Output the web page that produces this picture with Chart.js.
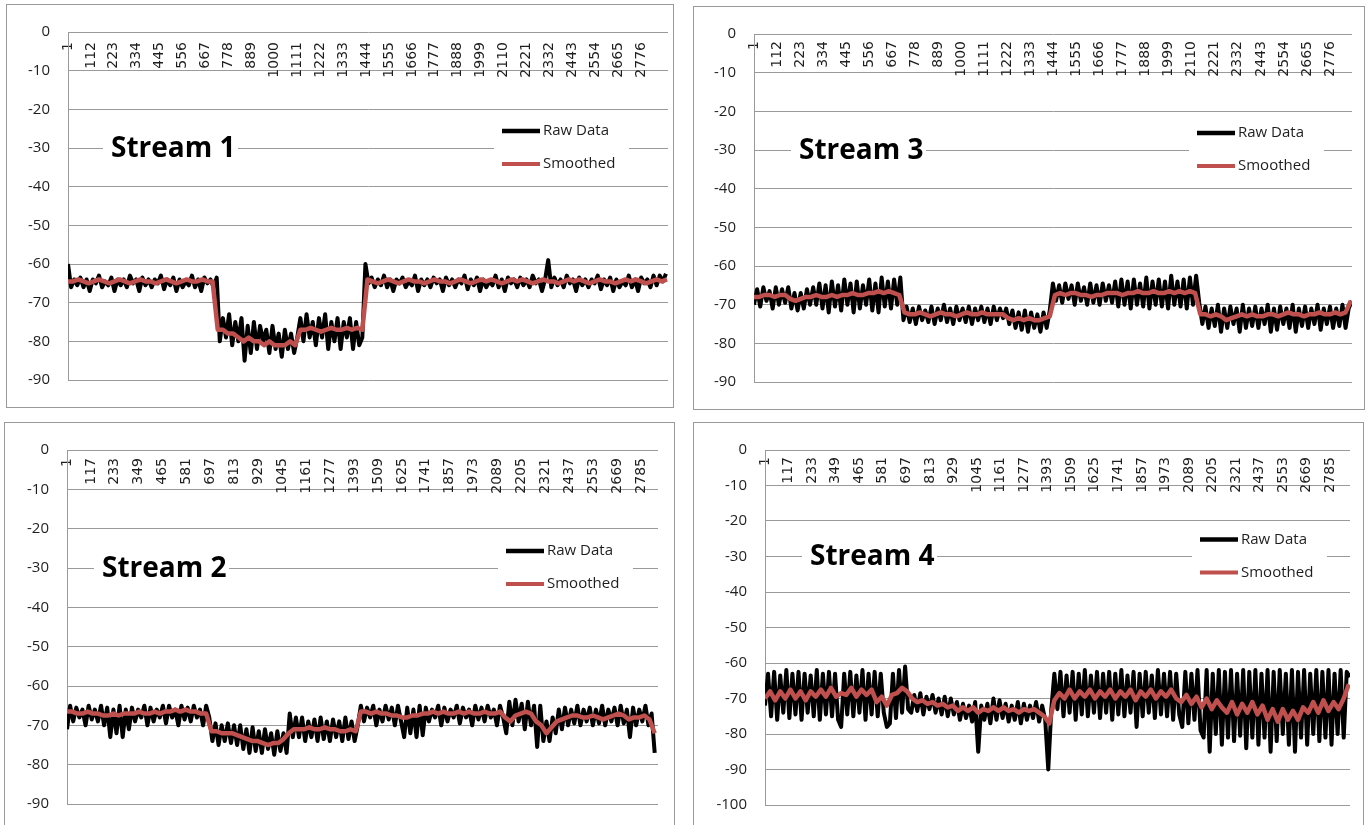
<!DOCTYPE html>
<html lang="en">
<head>
<meta charset="UTF-8">
<title>Streams</title>
<style>
  html, body { margin: 0; padding: 0; background: #fff; overflow: hidden; }
  body { width: 1372px; height: 825px; position: relative; }
  .panel { position: absolute; border: 1px solid #9a9a9a; background: #fff; }
  .panel canvas { display: block; }
</style>
</head>
<body>
<div class="panel" style="left:6px;top:4px;"><canvas id="s1" width="666" height="402"></canvas></div>
<div class="panel" style="left:693px;top:6px;"><canvas id="s3" width="670" height="402"></canvas></div>
<div class="panel" style="left:4px;top:422px;"><canvas id="s2" width="669" height="410"></canvas></div>
<div class="panel" style="left:693px;top:422px;"><canvas id="s4" width="669" height="410"></canvas></div>

<script src="https://cdn.jsdelivr.net/npm/chart.js"></script>
<script>
// raw values are read every 15 samples, smoothed every 25
const rawStep = 15
const smoothStep = 25

const xTicksA = [1,112,223,334,445,556,667,778,889,1000,1111,1222,1333,1444,1555,1666,1777,1888,1999,2110,2221,2332,2443,2554,2665,2776]
const xTicksB = [1,117,233,349,465,581,697,813,929,1045,1161,1277,1393,1509,1625,1741,1857,1973,2089,2205,2321,2437,2553,2669,2785]

const stream1Raw = [
  -60,-66,-64,-65.5,-63.5,-66,-64,-67,-64,-65,-63,-66,-64.5,-65.5,-63.5,-67,-64,-65.5,-64,-66,
  -63,-65,-64,-67,-63.5,-65.5,-64,-66,-64,-65,-63,-66.5,-64,-65.5,-63.5,-67,-64,-66,-64.5,-65.5,
  -63,-66,-64,-67,-63.5,-65,-64,-66,-63.5,
  -80,-74,-79,-73,-81,-75,-80,-74,-85,-76,-83,-75,-82,-76,-80,-77,-83,-76,-82,-78,-84,-77,-82,-78,-83,-79,
  -74,-80,-73,-79,-75,-81,-74,-79,-73,-82,-75,-80,-74,-82,-75,-79,-74,-82,-75,-81,-79,
  -60,
  -65,-63.5,-66,-64,-65.5,-63,-66,-64,-67,-64,-65,-63.5,-66,-64.5,-65.5,-63,-67,-64,-65.5,-64,
  -66,-63.5,-65,-64,-67,-63.5,-65.5,-64,-66,-64,-65,-63,-66.5,-64,-65.5,-63.5,-67,-64,-66,-64.5,
  -65.5,-63,-66,-64,-67,-63.5,-65,-64,-66,-63.5,-65.5,-64,-66,-63,-65,-64,-67,-64,
  -59,
  -66,-63.5,-65.5,-64,-66,-63,-65,-64,-67,-63.5,-65.5,-64,-66,-64,-65,-63,-66.5,-64,-65.5,-63.5,
  -67,-64,-66,-64.5,-65.5,-63,-66,-64,-67,-63.5,-65,-64,-66,-63,-65.5,-63,-64.5,-62.5
]
const stream1Smooth = [
  -64.5,-64.5,-64,-64.5,-65,-64.5,-64,-64.5,-65,-64.5,-64,-64.5,-65,-64.5,-64,-64.5,-64.5,-65,-64.5,-64,-64.5,-65,-64.5,-64,-64.5,-64.5,-64,-64.5,-64.5,
  -77,-77,-78,-78,-79,-80,-79,-80,-80,-81,-80,-81,-81,-81,-80,-81,
  -77,-77,-76.5,-77,-77.5,-77,-76.5,-77,-77,-76.5,-77,-76.5,-77,
  -64,-64.5,-65,-64.5,-64,-64.5,-65,-64.5,-64,-64.5,
  -64.5,-65,-64.5,-64,-64.5,-64.5,-65,-64.5,-64,-64.5,
  -65,-64.5,-64,-64.5,-64,-64.5,-65,-64.5,-64,-64.5,
  -64,-64.5,-65,-64.5,-64,-64.5,-64.5,-65,-64.5,-64,
  -64.5,-64,-64.5,-65,-64.5,-64,-64.5,-64.5,-65,-64.5,
  -64,-64.5,-64,-64.5,-65,-64.5,-64,-64.5,-64
]

const stream2Raw = [
  -71,-65,-69,-65.5,-68,-66,-70,-65,-68.5,-66,-69,-65,-70,-65.5,-73,-66,-72,-65,-73,-66,
  -71,-65.5,-69,-66,-68,-65,-70,-65.5,-69,-66,-68,-65,-69.5,-65,-68,-66,-70,-65,-68.5,-65.5,
  -69,-65,-68,-66,-70,-65,-68,
  -74,-69.5,-75,-70,-74,-69.5,-74.5,-70,-75,-70,
  -76,-71,-77,-70.5,-76.5,-71.5,-77,-71,-76,-72,-77.5,-71.5,-76.5,-72,-77,
  -67,-73,-68,
  -73,-68,-74,-69,-73,-68.5,-74,-68,-73.5,-69,-74,-68.5,-73,-69,-74,-68,-73.5,-69,-74,-70,
  -65,-69,-65.5,-68,-65,-70,-66,-69,-65,-68.5,-65.5,-70,-65,-69,-73,-65.5,-72,-66,-73,-65,
  -72.5,-65.5,-69,-66,-68,-65,-70,-65.5,-69,-66,-68,-65,-69.5,-65.5,-68,-66,-70,-65,-68.5,-65.5,
  -69,-65,-68,-66,-70,-65,-68,
  -72,-64,-70,-63.5,-69,-64.5,-71,-64,-70,-65,-75.5,-65,-74,-69,
  -74,-68,-72,-66,-71,-65.5,-70,-66,-69.5,-65,-70,-66,-69,-65.5,-70,-66,-69.5,-65,-70,-66,
  -69,-65.5,-70,-65,-69.5,-66,-73,-65.5,-70,-66,-69,-65,-70,
  -67,-77
]
const stream2Smooth = [
  -66.5,-66.5,-67,-67,-66.5,-67,-67,-67.5,-67.5,-67,-67.5,-67,-67,-67,-66.5,-67,-67,-66.5,-67,-66.5,-66.5,-66,-66.5,-66,-66.5,-66.5,-67,-67,
  -71.5,-71.5,-72,-72,-72,-72.5,
  -73,-73.5,-74,-74,-74.5,-75,-74.5,-74.5,-73.5,
  -72,-71,-71,
  -71,-70.5,-71,-71,-70.5,-71,-71,-71.5,-71.5,-71,-71.5,
  -66.5,-66.5,-67,-66.5,-67,-67,-67.5,-67.5,-68,-68,-67.5,-67.5,-67,-67,-66.5,-67,-66.5,-67,-67,-66.5,-67,-66.5,-67,-67,-66.5,-67,-67,-66.5,
  -68,-69,-67.5,-67,-66.5,-67,-69,-70,-72,
  -70.5,-69,-68.5,-68,-67.5,-67.5,-68,-68,-67.5,-68,-68.5,-68,-67.5,-67,-67.5,-68.5,-68,-68,-67.5,
  -68.5,-72
]

const stream3Raw = [
  -70,-66,-70.5,-65.5,-69,-66.5,-71,-65.5,-70,-66,-69.5,-65.5,-71,-67,-71.5,-67,-71,-66,-70,-65.5,
  -70,-64.5,-71,-65,-72,-64,-70.5,-65,-71.5,-63.5,-70,-64.5,-72,-64,-71,-65,-70,-63.5,-71.5,-64.5,
  -72,-63,-70.5,-64,-71,-63.5,-70,-63,
  -74,-70.5,-74.5,-71,-75,-70.5,-74,-71.5,-74.5,-70.5,-75,-71,-74,-70,-74.5,-71,-75,-70.5,-74,-71,
  -74.5,-70.5,-75,-71,-74,-70.5,-74.5,-71,-75,-70.5,-74,-71,-73.5,-71,
  -75,-71.5,-76,-72,-76.5,-71.5,-77,-72,-76,-72.5,-77,-72,-76,-71.5,
  -64.5,-69,-65,-69.5,-64.5,-68.5,-65,-70,-64.5,-69,-65.5,-70,-64.5,-69.5,-65,-70,-64.5,-69,-65,-69.5,
  -64,-70.5,-63.5,-70,-64,-71,-63.5,-70,-64.5,-70.5,-63,-71,-64,-70,-63.5,-70.5,-64,-71,-62.5,-70,
  -64,-70.5,-63.5,-71,-63,-70,-62.5,-69.5,
  -75,-70.5,-76,-71,-75.5,-70,-77,-71,-76,-70.5,-75,-71,-77,-70,-76,-71,-75.5,-70.5,-76,-71,
  -75,-70,-77,-71,-76.5,-70.5,-75,-71,-76,-70,-77,-71,-75.5,-70.5,-76,-71,-75,-70,-76.5,-71,
  -75,-70.5,-76,-71,-75.5,-70,-76,-71,-69
]
const stream3Smooth = [
  -68,-68,-67.5,-67.5,-68,-67.5,-67.5,-68.5,-69,-68.5,-68,-68,-67.5,-68,-68,-67.5,-68,-67.5,-67.5,-67,-67.5,-67.5,-67,-67,-66.5,-67,-66.5,-67,-67.5,
  -72,-72.5,-72.5,-72,-72.5,-73,-72.5,-72,-72.5,-72.5,-73,-72.5,-72,-72.5,-72.5,-72,-72.5,-72.5,-72.5,-72.5,-73.5,-74,-73.5,-74,-73.5,-74,-74,-73.5,-73,
  -67.5,-67,-67.5,-67,-67,-67.5,-67.5,-68,-67.5,-67.5,-67,-67,-67,-67.5,-67,-67,-66.5,-67,-67,-66.5,-67,-67,-66.5,-67,-66.5,-67,-66.5,-67,
  -72.5,-72.5,-73,-72.5,-73,-74,-73.5,-73,-72.5,-73,-72.5,-73,-73,-72.5,-72.5,-73,-72.5,-72,-72.5,-72.5,-73,-72.5,-72.5,-72,-72.5,-72.5,-72,-72.5,-72,-69
]

const stream4Raw = [
  -72,-63,-75,-62.5,-76,-63.5,-74,-62,-75.5,-63,-74.5,-62.5,-76,-63,-74,-63.5,-75,-62,-76,-63,
  -74.5,-62.5,-75,-63,-76,-78,-63,-74.5,-62.5,-75,-63.5,-74,-62,-76,-63,-74.5,-62.5,-75,-63,-74,
  -78,-77,-63,-75.5,-62,-74,-61,-73,
  -74,-69,-73.5,-68.5,-74.5,-69.5,-73,-69,-74,-70,-74.5,-69.5,-75,-70,-74.5,-71,
  -76,-71.5,-75.5,-72,-76.5,-71,-85,-72,-76,-71.5,-77,-70,-76,-70.5,-75.5,-71.5,-76.5,-72,-76,-71,
  -77,-71.5,-76,-72,-75.5,-71,-76.5,-72,-76,-90,-73,
  -63,-73,-62.5,-75,-63.5,-74,-62.5,-76,-63,-74.5,-62,-75,-63.5,-74,-62.5,-75.5,-63,-74,-62.5,-76,
  -63,-74.5,-62,-75,-63.5,-74,-62.5,-78,-63,-75,-62.5,-74,-63.5,-75.5,-62,-74.5,-63,-75,-62.5,-76,
  -63,-74.5,
  -78,-62.5,-77,-63,-76,-62,-79,
  -81,-62,-85,-63,-80,-62,-83,-62.5,-81,-62,-82,-63,-80.5,-62,-84,-62.5,-81,-62,-83,-63,
  -81,-62,-85,-62.5,-82,-62,-80,-63,-83,-62,-85,-62.5,-81,-62,-83,-63,-80,-62,-82,-62.5,
  -81,-62,-83,-63,-80,-62,-81,-62.5,-64
]
const stream4Smooth = [
  -70,-68,-70.5,-68,-70,-67.5,-70,-68,-70.5,-68,-69.5,-67.5,-69.5,-67,-69.5,-68.5,-69,-67,-69.5,-67.5,-69,-67.5,-71,-69.5,-72,-69,-68.5,-67,-68,
  -70,-71,-70.5,-71.5,-71,-72,-71.5,-72.5,-72,
  -73.5,-72.5,-73.5,-72.5,-74,-73,-73.5,-72.5,-73.5,-72.5,-73.5,-73,-74,-73,-73.5,-73,-74,-75,-77,
  -70.5,-68.5,-70,-67.5,-70,-68,-69.5,-67.5,-70,-68,-69.5,-67.5,-70,-68,-69.5,-67.5,-70.5,-68,-69.5,-67.5,-70,-68,-69.5,-67.5,-70,
  -71,-69,-71.5,-69.5,
  -72.5,-70,-73,-70.5,-72.5,-74,-71,-74.5,-71.5,-74,-71,-74.5,-72,-76,-73,-76.5,-73,-76,-73.5,-76,-72.5,-74,-71,-74,-70.5,-73.5,-71,-73,-70,-66
]

const textColor = '#1e1e1e'
const gridColor = '#9a9a9a'

function points(values, step) {
  return values.map((v, i) => ({ x: 1 + i * step, y: v }))
}

// white boxes with the stream name and the legend, sitting on the -30 gridline
const overlay = {
  id: 'overlay',
  afterDatasetsDraw(chart, args, opts) {
    const { ctx, chartArea: a } = chart
    const yc = chart.scales.y.getPixelForValue(-30)
    ctx.save()
    ctx.fillStyle = '#fff'
    ctx.fillRect(a.left + opts.titleX - 8, yc - 16, 135, 32)
    ctx.fillStyle = '#000'
    ctx.font = 'bold 28px "Open Sans"'
    ctx.textBaseline = 'middle'
    ctx.fillText(opts.title, a.left + opts.titleX, yc + 1)

    const lx = a.left + opts.legendX
    ctx.fillStyle = '#fff'
    ctx.fillRect(lx - 8, yc - 32, 135, 64)
    ctx.font = '15px "Open Sans"'
    const rows = [yc - 17, yc + 16]
    chart.data.datasets.forEach((ds, i) => {
      ctx.strokeStyle = ds.borderColor
      ctx.lineWidth = i == 0 ? 4.5 : 4
      ctx.beginPath()
      ctx.moveTo(lx, rows[i])
      ctx.lineTo(lx + 38, rows[i])
      ctx.stroke()
      ctx.fillStyle = textColor
      ctx.fillText(ds.label, lx + 41, rows[i])
    })
    ctx.restore()
  }
}

function makePanel(id, o) {
  return new Chart(document.getElementById(id), {
    type: 'line',
    data: {
      datasets: [
        { label: 'Raw Data', data: points(o.raw, rawStep), borderColor: '#000', borderWidth: 4, borderJoinStyle: 'round', order: 2 },
        { label: 'Smoothed', data: points(o.smooth, smoothStep), borderColor: '#C0504D', borderWidth: 4.5, borderJoinStyle: 'round', order: 1 }
      ]
    },
    options: {
      responsive: false,
      animation: false,
      events: [],
      parsing: false,
      layout: { padding: o.pad },
      elements: { point: { radius: 0 }, line: { tension: 0 } },
      plugins: {
        legend: { display: false },
        tooltip: { enabled: false },
        overlay: { title: o.title, titleX: o.titleX, legendX: o.legendX }
      },
      scales: {
        x: {
          type: 'linear',
          position: { y: 0 },
          min: 1,
          max: o.xMax,
          afterBuildTicks: s => { s.ticks = o.ticks.map(v => ({ value: v })) },
          afterFit: s => { s.paddingLeft = 0; s.paddingRight = 0 },
          grid: { display: false, drawTicks: false },
          border: { display: false },
          ticks: {
            autoSkip: false, minRotation: 90, maxRotation: 90, padding: o.labelGap,
            color: textColor, font: { family: 'DejaVu Sans', size: 14 },
            callback: v => String(v)
          }
        },
        y: {
          min: o.yMin,
          max: 0,
          afterFit: s => { s.width = o.axisWidth },
          grid: { color: gridColor, drawTicks: false },
          border: { color: gridColor },
          ticks: { stepSize: 10, padding: 18, color: textColor, font: { family: 'Open Sans', size: 15 } }
        }
      }
    },
    plugins: [overlay]
  })
}

makePanel('s1', { raw: stream1Raw, smooth: stream1Smooth, ticks: xTicksA, xMax: 2906, yMin: -90,
  axisWidth: 61, pad: { top: 19, right: 5, bottom: 20, left: 0 }, labelGap: 10,
  title: 'Stream 1', titleX: 43, legendX: 434 })
makePanel('s3', { raw: stream3Raw, smooth: stream3Smooth, ticks: xTicksA, xMax: 2882, yMin: -90,
  axisWidth: 60, pad: { top: 10, right: 12, bottom: 21, left: 0 }, labelGap: 7,
  title: 'Stream 3', titleX: 45, legendX: 443 })
makePanel('s2', { raw: stream2Raw, smooth: stream2Smooth, ticks: xTicksB, xMax: 2867, yMin: -90,
  axisWidth: 62, pad: { top: 12, right: 16, bottom: 29, left: 0 }, labelGap: 8,
  title: 'Stream 2', titleX: 35, legendX: 439 })
makePanel('s4', { raw: stream4Raw, smooth: stream4Smooth, ticks: xTicksB, xMax: 2882, yMin: -100,
  axisWidth: 71, pad: { top: 13, right: 13, bottom: 28, left: 0 }, labelGap: 7,
  title: 'Stream 4', titleX: 45, legendX: 435 })
</script>
</body>
</html>
